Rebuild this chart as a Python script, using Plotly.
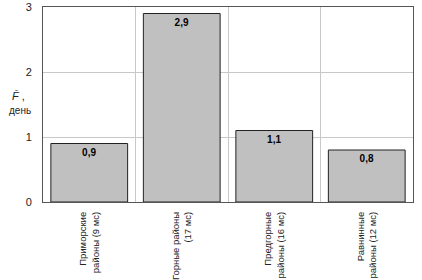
import plotly.graph_objects as go

categories = ["Приморские<br>районы (9 мс)", "Горные районы<br>(17 мс)",
              "Предгорные<br>районы (16 мс)", "Равнинные<br>районы (12 мс)"]
values = [0.9, 2.9, 1.1, 0.8]
value_labels = ["0,9", "2,9", "1,1", "0,8"]
y_ticks = [0, 1, 2, 3]

fig = go.Figure(go.Bar(
    x=categories, y=values, text=value_labels,
    textposition="inside", insidetextanchor="end",
    textfont=dict(family="Liberation Sans, Arial", size=10, color="black", weight="bold"),
    marker=dict(color="#c0c0c0", line=dict(color="#222222", width=1)),
    width=0.83,
))

fig.update_layout(
    width=422, height=280,
    margin=dict(l=43, r=9, t=7, b=78),
    paper_bgcolor="white", plot_bgcolor="white",
    font=dict(family="Liberation Sans, Arial", size=10, color="black"),
    showlegend=False,
)
fig.update_xaxes(
    type="category", tickson="boundaries", showgrid=True, gridcolor="#c8c8c8", gridwidth=1,
    tickangle=-90, ticks="", showline=True, linecolor="#555555", linewidth=1, mirror=True,
    tickfont=dict(size=9.5, color="#222222"), ticklabelstandoff=5, automargin=False,
)
fig.update_yaxes(
    range=[0, 3], tickvals=y_ticks, ticktext=[str(v) for v in y_ticks],
    showgrid=True, gridcolor="#c8c8c8", gridwidth=1, ticks="",
    showline=True, linecolor="#555555", linewidth=1, mirror=True, zeroline=False,
    tickfont=dict(size=11, color="#222222"), ticklabelstandoff=8, automargin=False,
)
fig.add_annotation(text="<i>F̄</i> ,", xref="paper", yref="paper", x=-0.088, y=0.545,
                   showarrow=False, xanchor="left", font=dict(size=11, color="#222222"))
fig.add_annotation(text="день", xref="paper", yref="paper", x=-0.097, y=0.47,
                   showarrow=False, xanchor="left", font=dict(size=10, color="#222222"))

fig.write_html("out.html")
